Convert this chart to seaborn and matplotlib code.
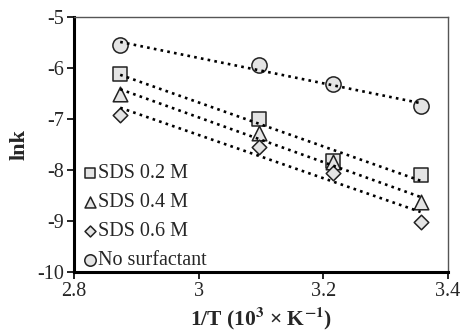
import matplotlib
matplotlib.use("Agg")
import matplotlib.pyplot as plt
import seaborn as sns
import numpy as np

inv_T = [2.874, 3.096, 3.216, 3.356]
sds_02 = [-6.12, -7.00, -7.82, -8.10]
sds_04 = [-6.50, -7.27, -7.85, -8.63]
sds_06 = [-6.92, -7.55, -8.06, -9.02]
no_surf = [-5.55, -5.94, -6.32, -6.75]
labels = ["SDS 0.2 M", "SDS 0.4 M", "SDS 0.6 M", "No surfactant"]
x_ticks = [2.8, 3.0, 3.2, 3.4]
x_ticklabels = ["2.8", "3", "3.2", "3.4"]
y_ticks = [-10, -9, -8, -7, -6, -5]

sns.set_style("white")
plt.rcParams['font.family'] = ['Liberation Serif', 'DejaVu Serif']
plt.rcParams['mathtext.fontset'] = 'stix'
plt.rcParams['axes.unicode_minus'] = False

fig = plt.figure(figsize=(4.63, 3.33), dpi=100)
ax = fig.add_axes([0.16, 0.183, 0.8076, 0.766])

series = [sds_02, sds_04, sds_06, no_surf]
markers = ["s", "^", "D", "o"]
sizes = [100, 110, 55, 120]
for ys, m, s, lab in zip(series, markers, sizes, labels):
    sns.regplot(x=np.array(inv_T), y=np.array(ys), ax=ax, ci=None, truncate=True,
                marker=m, label=lab,
                scatter_kws=dict(s=s, facecolor="#e4e4e4", edgecolor="#222222",
                                 linewidths=1.1, alpha=1, zorder=3),
                line_kws=dict(color="black", linestyle=(0, (1, 1.6)),
                              linewidth=1.9, zorder=4))

ax.set_xlim(2.8, 3.4)
ax.set_ylim(-10, -5)
ax.set_xticks(x_ticks)
ax.set_xticklabels(x_ticklabels)
ax.set_yticks(y_ticks)
ax.tick_params(axis="both", direction="out", length=5, width=1.2, color="black",
               labelsize=14.5, pad=2, bottom=True, left=True)
ax.set_xlabel(r"1/T (10$^{\mathbf{3}}$ × K$^{\mathbf{-1}}$)", fontsize=15.5, fontweight="bold", labelpad=3)
ax.set_ylabel("lnk", fontsize=16, fontweight="bold", labelpad=6)

for side in ["left", "bottom"]:
    ax.spines[side].set_color("black")
    ax.spines[side].set_linewidth(2.2)
for side in ["top", "right"]:
    ax.spines[side].set_color("#555555")
    ax.spines[side].set_linewidth(1.0)

leg = ax.legend(loc="lower left", frameon=False, fontsize=14.5, handletextpad=-0.1,
                labelspacing=0.5, borderaxespad=0.0, handlelength=1.0,
                markerscale=0.75, bbox_to_anchor=(-0.005, -0.025))

fig.savefig("out.png", dpi=100)
